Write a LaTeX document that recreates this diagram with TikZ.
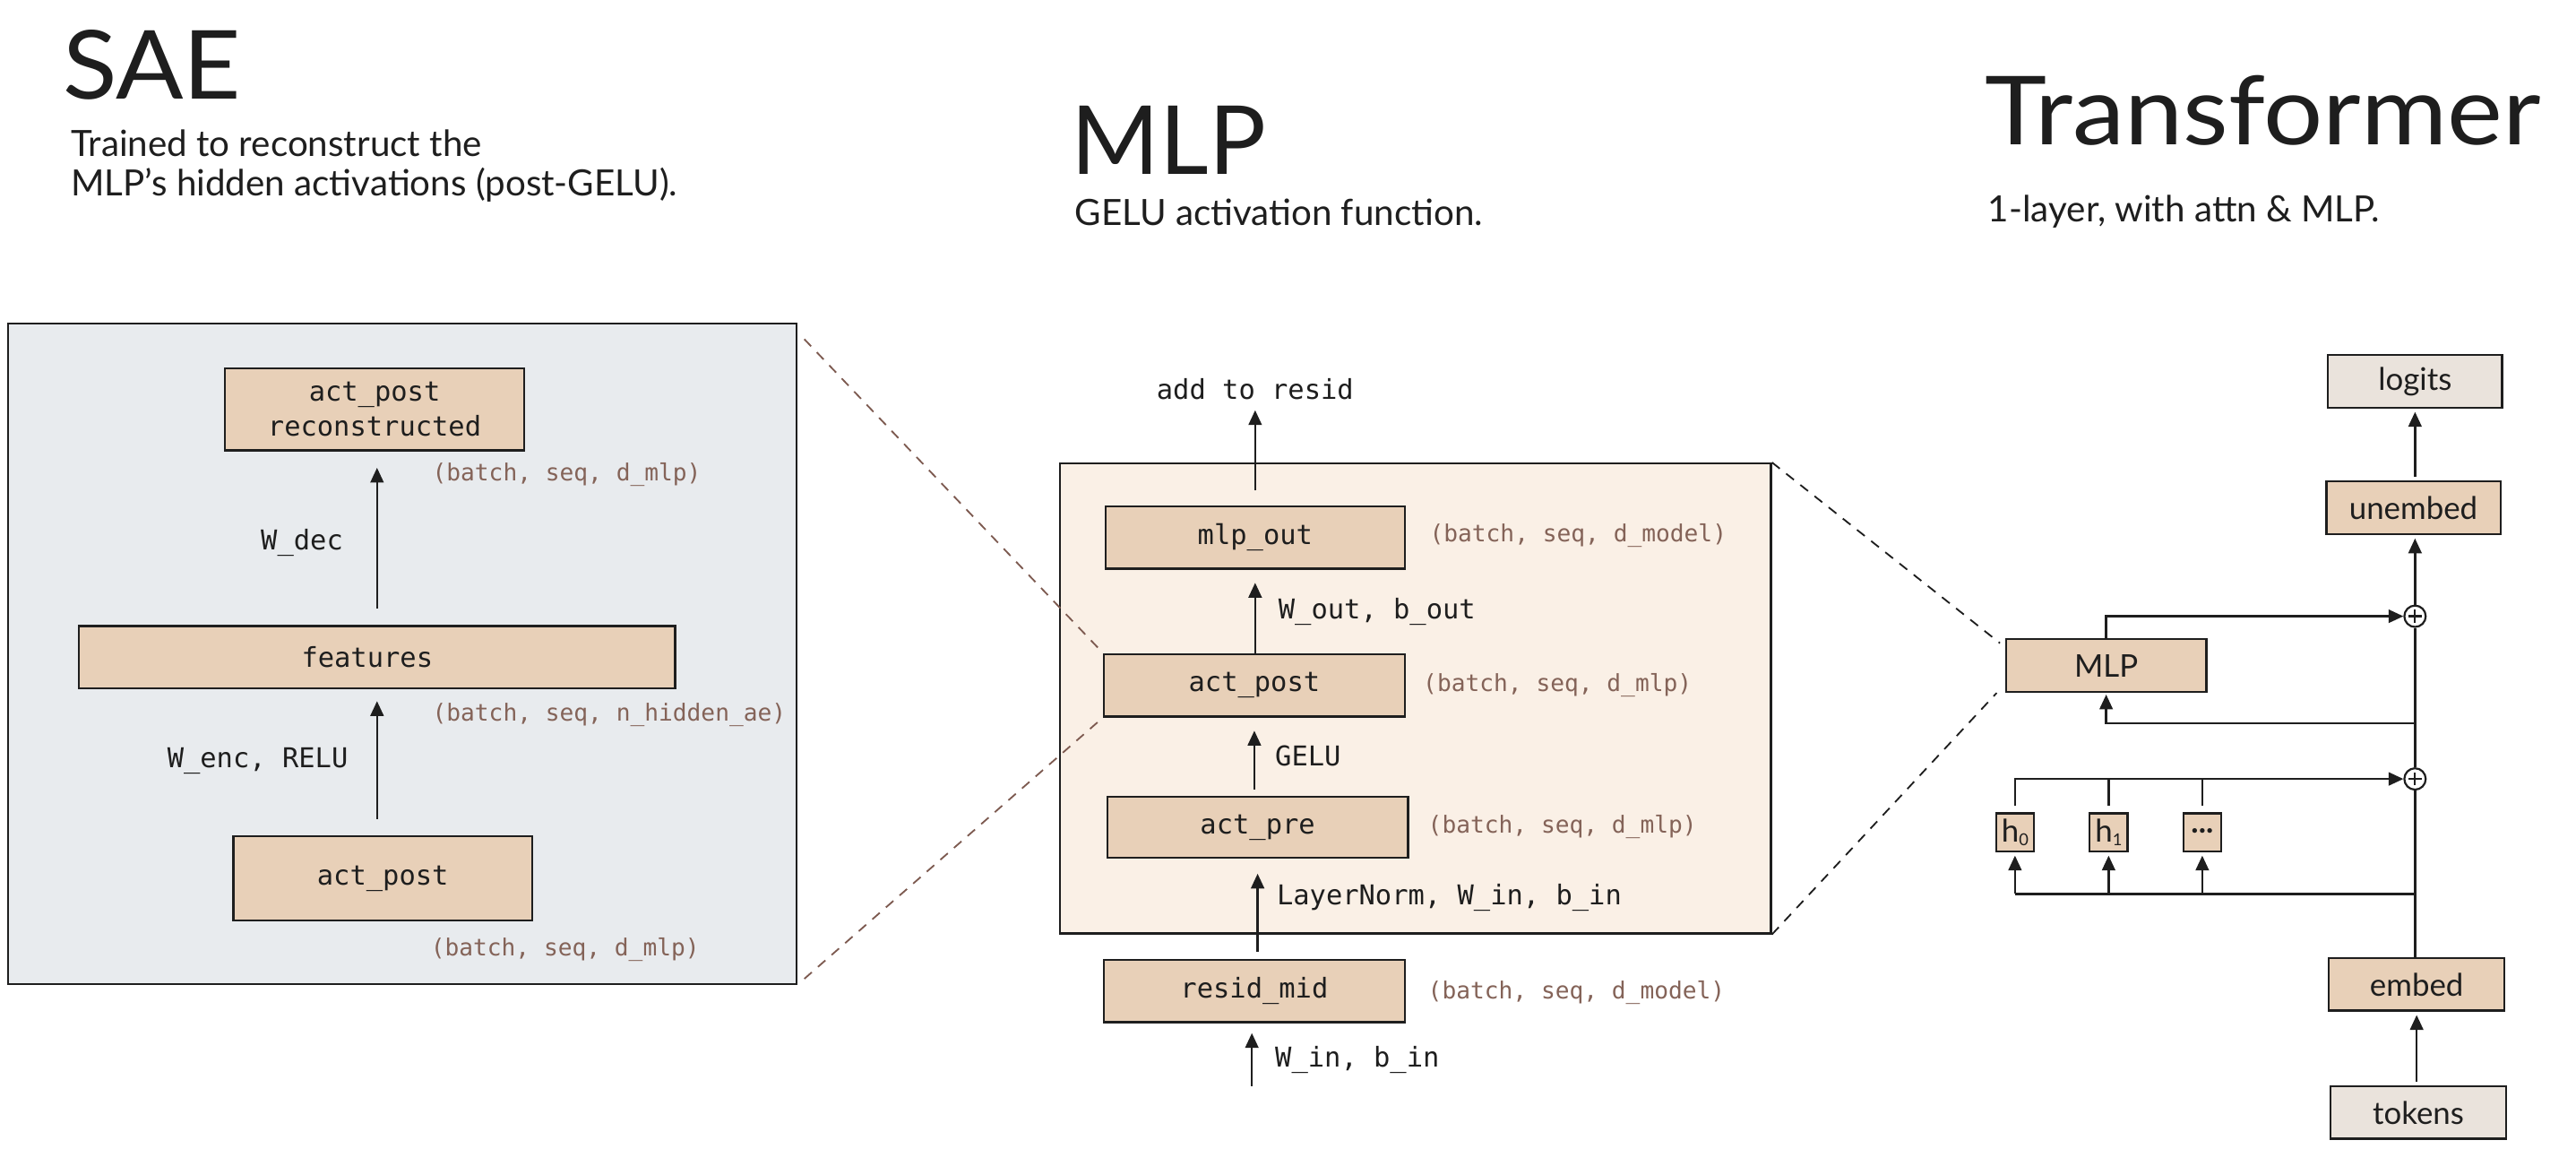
\documentclass[tikz,border=0pt]{standalone}
\usepackage{fontspec}
\setmainfont{Lato}
\setmonofont{DejaVu Sans Mono}
\usetikzlibrary{arrows.meta}
\definecolor{ink}{HTML}{1E1E1E}
\definecolor{boxtan}{HTML}{E8D0B8}
\definecolor{boxgrey}{HTML}{EAE3DC}
\definecolor{saebg}{HTML}{E8EBEE}
\definecolor{mlpbg}{HTML}{FAF0E6}
\definecolor{dimtext}{HTML}{846358}
\definecolor{dashbrown}{HTML}{7D5A50}
\newcommand{\monobig}{\ttfamily\fontsize{16.6}{20}\selectfont}
\newcommand{\monosmall}{\ttfamily\fontsize{14.3}{17}\selectfont}
\newcommand{\handtitle}{\fontsize{58}{64}\selectfont}
\newcommand{\handsub}{\fontsize{22}{24}\selectfont}
\newcommand{\handbox}{\fontsize{19}{22}\selectfont}
\tikzset{
  box/.style={draw=ink, line width=1.3pt, fill=boxtan, inner sep=0pt, font=\monobig, text=ink},
  hbox/.style={draw=ink, line width=1.3pt, fill=boxtan, inner sep=0pt, font=\handbox, text=ink},
  gbox/.style={draw=ink, line width=1.3pt, fill=boxgrey, inner sep=0pt, font=\handbox, text=ink},
  panel/.style={draw=ink, line width=1.2pt, inner sep=0pt},
  dims/.style={font=\monosmall, text=dimtext, anchor=west, inner sep=0pt},
  lbl/.style={font=\monobig, text=ink, inner sep=0pt},
  arr/.style={draw=ink, line width=1.3pt, -{Triangle[length=9pt, width=8pt]}},
  ln/.style={draw=ink, line width=1.3pt},
  dashb/.style={draw=dashbrown, line width=1pt, dash pattern=on 6pt off 5pt},
  dashk/.style={draw=ink, line width=1pt, dash pattern=on 6pt off 5pt},
  plusnode/.style={circle, draw=ink, line width=1.2pt, fill=white, minimum size=13pt, inner sep=0pt,
    path picture={\draw[ink, line width=1.2pt] ([xshift=-4pt]path picture bounding box.center) -- ([xshift=4pt]path picture bounding box.center)
      ([yshift=-4pt]path picture bounding box.center) -- ([yshift=4pt]path picture bounding box.center);}},
  title/.style={font=\handtitle, text=ink, anchor=base west, inner sep=0pt},
  sub/.style={font=\handsub, text=ink, anchor=base west, inner sep=0pt, align=left}
}
\begin{document}
\begin{tikzpicture}[x=1pt, y=-1pt]
\useasboundingbox[fill=white] (0,0) rectangle (1568,699);

% ---------------- titles ----------------
\node[title] (tsae) at (38,60) {\scalebox{1.05}[1]{SAE}};
\node[sub] (ssae) at (43,119) {Trained to reconstruct the\\MLP's hidden activations (post-GELU).};
\node[title] (tmlpt) at (652,106) {MLP};
\node[sub] (smlp) at (654,137) {GELU activation function.};
\node[title] (ttr) at (1208,88) {\scalebox{1.1}[1]{Transformer}};
\node[sub] (str) at (1210,135) {1-layer, with attn \& MLP.};

% ---------------- SAE panel ----------------
\node[panel, fill=saebg, minimum width=480pt, minimum height=402pt] (sae) at (245,398) {};
\node[box, minimum width=182pt, minimum height=50pt, align=center, font=\ttfamily\fontsize{16.6}{21}\selectfont] (recon) at (228,249) {act\_post\\reconstructed};
\node[box, minimum width=363pt, minimum height=38pt] (feat) at (229.5,400) {\hspace*{-12pt}features};
\node[box, minimum width=182pt, minimum height=51pt] (actin) at (233,534.5) {act\_post};
\draw[arr, shorten <=10pt, shorten >=10pt] (feat.north) -- (recon.south -| feat.north);
\draw[arr, shorten <=10pt, shorten >=7pt] (actin.north -| feat.south) -- (feat.south);
\node[dims] (d1) at (263,289) {(batch, seq, d\_mlp)};
\node[dims] (d2) at (263,435) {(batch, seq, n\_hidden\_ae)};
\node[dims] (d3) at (262,578) {(batch, seq, d\_mlp)};
\node[lbl, anchor=east] (wdec) at (209,330) {W\_dec};
\node[lbl, anchor=east] (wenc) at (212,463) {W\_enc, RELU};

% ---------------- MLP panel ----------------
\node[panel, fill=mlpbg, minimum width=433pt, minimum height=286pt] (mlpbox) at (861.5,425) {};
\node[box, minimum width=182pt, minimum height=38pt] (mlpout) at (764,327) {mlp\_out};
\node[box, minimum width=183pt, minimum height=38pt] (actpost) at (763.5,417) {act\_post};
\node[box, minimum width=183pt, minimum height=37pt] (actpre) at (765.5,503.5) {act\_pre};
\node[box, minimum width=183pt, minimum height=38pt] (residmid) at (763.5,603) {resid\_mid};
\node[lbl] (addres) at (764,237) {add to resid};
\coordinate (win) at (762,661);
\draw[arr, shorten <=9pt, shorten >=6pt] (mlpout.north) -- (addres.south);
\draw[arr, shorten <=0pt, shorten >=8pt] (actpost.north -| mlpout.south) -- (mlpout.south);
\draw[arr, shorten <=4pt, shorten >=8pt] (actpre.north -| actpost.south) -- (actpost.south);
\draw[arr, shorten <=4pt, shorten >=9pt] (residmid.north -| actpre.south) -- (actpre.south);
\draw[arr, shorten >=6pt] (win) -- (win |- residmid.south);
\node[dims] (d4) at (870,326) {(batch, seq, d\_model)};
\node[dims] (d5) at (866,417) {(batch, seq, d\_mlp)};
\node[dims] (d6) at (869,503) {(batch, seq, d\_mlp)};
\node[dims] (d7) at (869,604) {(batch, seq, d\_model)};
\node[lbl, anchor=west] (wout) at (778,372) {W\_out, b\_out};
\node[lbl, anchor=west] (gelu) at (776,460) {GELU};
\node[lbl, anchor=west] (lnw) at (777,546) {LayerNorm, W\_in, b\_in};
\node[lbl, anchor=west] (winb) at (776,645) {W\_in, b\_in};

% ---------------- Transformer ----------------
\node[gbox, minimum width=106pt, minimum height=32pt] (logits) at (1470,232) {logits};
\node[hbox, minimum width=106pt, minimum height=32pt] (unembed) at (1469,309) {unembed};
\node[plusnode] (plus1) at (1470,375) {};
\node[hbox, minimum width=122pt, minimum height=32pt] (tmlp) at (1282,405) {MLP};
\node[plusnode] (plus2) at (1470,474) {};
\node[hbox, minimum width=23pt, minimum height=23pt] (h0) at (1226.5,506.5) {h\raisebox{-2.5pt}{\fontsize{10}{10}\selectfont 0}};
\node[hbox, minimum width=23pt, minimum height=23pt] (h1) at (1283.5,506.5) {h\raisebox{-2.5pt}{\fontsize{10}{10}\selectfont 1}};
\node[hbox, minimum width=23pt, minimum height=23pt] (hd) at (1340.5,506.5) {\raisebox{2pt}{\textbf{...}}};
\node[hbox, minimum width=107pt, minimum height=32pt] (embed) at (1471,599) {embed};
\node[gbox, minimum width=107pt, minimum height=32pt] (tokens) at (1472,677) {tokens};
\coordinate (br1) at (1470,440);
\coordinate (br2) at (1470,544);

\draw[arr, shorten <=2pt, shorten >=2pt] (tokens.north -| embed.north) -- (embed.south);
\draw[ln] (embed.north -| plus2.south) -- (plus2.south);
\draw[ln] (plus2.north) -- (plus1.south);
\draw[arr, shorten >=2pt] (plus1.north) -- (plus1.north |- unembed.south);
\draw[arr, shorten <=2pt, shorten >=2pt] (unembed.north -| logits.south) -- (logits.south);
\draw[arr, shorten >=1pt] (br1) -| (tmlp.south);
\draw[arr] (tmlp.north) |- (plus1.west);
\draw[ln] (br2) -- (br2 -| h0.south);
\draw[arr, shorten >=2pt] (br2 -| h0.south) -- (h0.south);
\draw[arr, shorten >=2pt] (br2 -| h1.south) -- (h1.south);
\draw[arr, shorten >=2pt] (br2 -| hd.south) -- (hd.south);
\draw[arr, shorten <=4pt] (h0.north) |- (plus2.west);
\draw[ln, shorten <=4pt] (h1.north) -- (h1.north |- plus2.west);
\draw[ln, shorten <=4pt] (hd.north) -- (hd.north |- plus2.west);

% ---------------- zoom guides ----------------
\draw[dashb] ([xshift=4pt, yshift=-10pt]sae.north east) -- (actpost.north west);
\draw[dashb] ([xshift=4pt, yshift=4pt]sae.south east) -- (actpost.south west);
\draw[dashk] (mlpbox.north east) -- ([xshift=-3pt, yshift=-3pt]tmlp.north west);
\draw[dashk] (mlpbox.south east) -- ([xshift=-5pt, yshift=0pt]tmlp.south west);
\end{tikzpicture}
\end{document}
